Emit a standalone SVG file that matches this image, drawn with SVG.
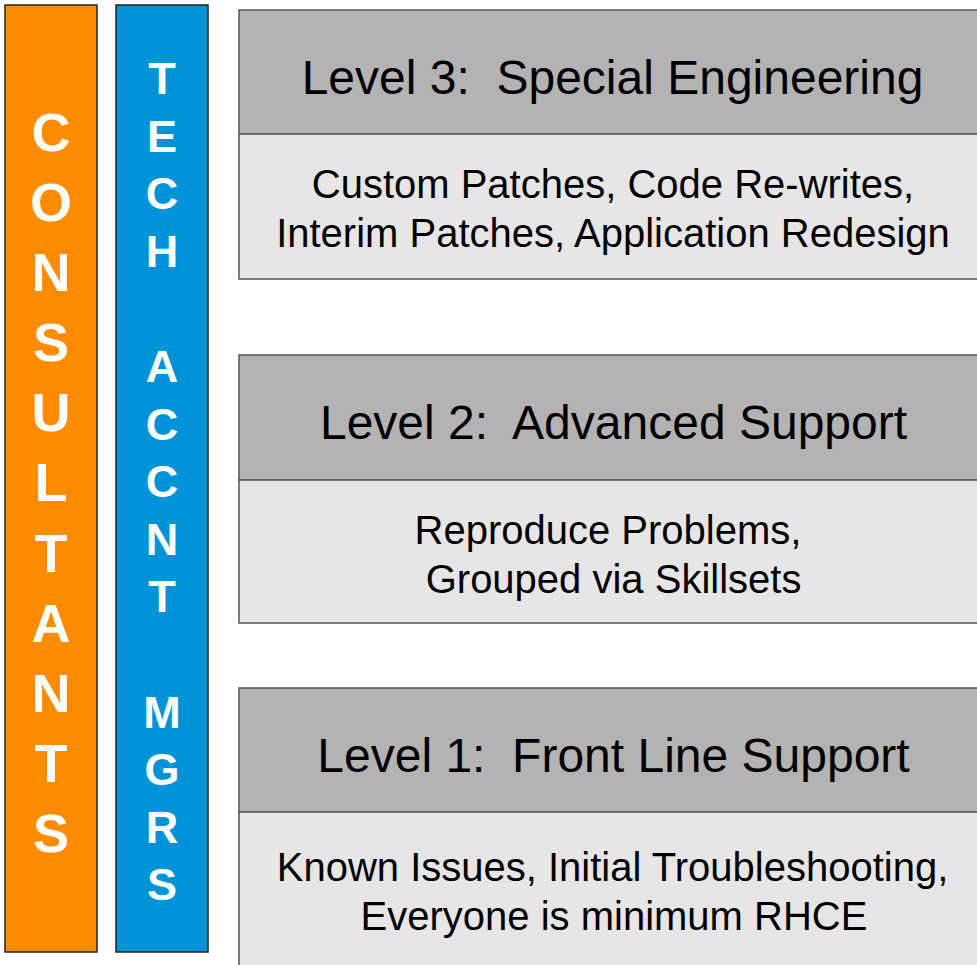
<svg xmlns="http://www.w3.org/2000/svg" width="977" height="965" viewBox="0 0 977 965">
<style>
.bar{stroke:#222;stroke-width:1.5}
.bl{font-family:"Liberation Sans",Arial,sans-serif;font-weight:bold;fill:#fff;text-anchor:middle}
.hd{fill:#b3b3b3;stroke:#555;stroke-width:1.5}
.bd{fill:#e6e6e6;stroke:#555;stroke-width:1.5}
.tt{font-family:"Liberation Sans",Arial,sans-serif;font-size:48px;fill:#000;text-anchor:middle;white-space:pre}
.tx{font-family:"Liberation Sans",Arial,sans-serif;font-size:40px;fill:#000;text-anchor:middle;white-space:pre}
</style>
<rect width="977" height="965" fill="#fff"/>
<g id="consultants">
<rect class="bar" x="5" y="5" width="92" height="947" fill="#ff8c00"/>
<g class="bl" font-size="54">
<text x="51" y="151">C</text>
<text x="51" y="221">O</text>
<text x="51" y="291">N</text>
<text x="51" y="361">S</text>
<text x="51" y="431">U</text>
<text x="51" y="501">L</text>
<text x="51" y="572">T</text>
<text x="51" y="642">A</text>
<text x="51" y="712">N</text>
<text x="51" y="782">T</text>
<text x="51" y="852">S</text>
</g>
</g>
<g id="techaccntmgrs">
<rect class="bar" x="116" y="5" width="92" height="947" fill="#0093d8"/>
<g class="bl" font-size="45">
<text x="162" y="94">T</text>
<text x="162" y="152">E</text>
<text x="162" y="209">C</text>
<text x="162" y="267">H</text>
<text x="162" y="382">A</text>
<text x="162" y="440">C</text>
<text x="162" y="497">C</text>
<text x="162" y="555">N</text>
<text x="162" y="612">T</text>
<text x="162" y="728">M</text>
<text x="162" y="785">G</text>
<text x="162" y="843">R</text>
<text x="162" y="900">S</text>
</g>
</g>
<g id="level3">
<rect class="hd" x="239" y="10" width="750" height="124"/>
<rect class="bd" x="239" y="134" width="750" height="145"/>
<text class="tt" x="612.5" y="94" xml:space="preserve">Level 3:  Special Engineering</text>
<text class="tx" x="613" y="198">Custom Patches, Code Re-writes,</text>
<text class="tx" x="613" y="247">Interim Patches, Application Redesign</text>
</g>
<g id="level2">
<rect class="hd" x="239" y="355" width="750" height="125"/>
<rect class="bd" x="239" y="480" width="750" height="143"/>
<text class="tt" x="613.5" y="439" xml:space="preserve">Level 2:  Advanced Support</text>
<text class="tx" x="608" y="544">Reproduce Problems,</text>
<text class="tx" x="608" y="593" xml:space="preserve"> Grouped via Skillsets</text>
</g>
<g id="level1">
<rect class="hd" x="239" y="688" width="750" height="124"/>
<rect class="bd" x="239" y="812" width="750" height="170"/>
<text class="tt" x="613.5" y="772" xml:space="preserve">Level 1:  Front Line Support</text>
<text class="tx" x="612.5" y="881">Known Issues, Initial Troubleshooting,</text>
<text class="tx" x="614" y="930">Everyone is minimum RHCE</text>
</g>
<g id="connectors"/>
</svg>
